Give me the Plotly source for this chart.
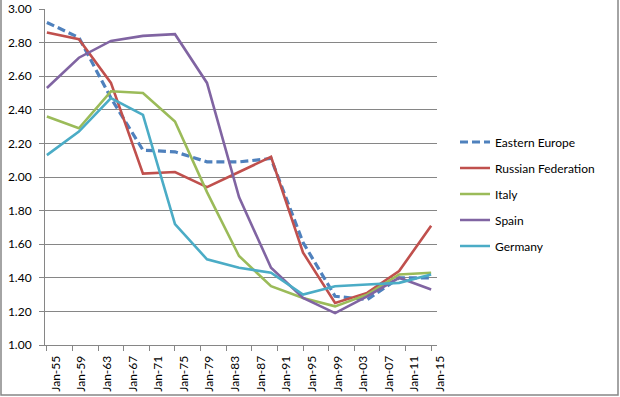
import plotly.graph_objects as go

years = ["1955-01-01", "1960-01-01", "1965-01-01", "1970-01-01", "1975-01-01",
         "1980-01-01", "1985-01-01", "1990-01-01", "1995-01-01", "2000-01-01",
         "2005-01-01", "2010-01-01", "2015-01-01"]

eastern_europe = [2.92, 2.83, 2.47, 2.16, 2.15, 2.09, 2.09, 2.11, 1.61, 1.29, 1.27, 1.40, 1.40]
russian_fed = [2.86, 2.82, 2.56, 2.02, 2.03, 1.94, 2.03, 2.12, 1.55, 1.25, 1.31, 1.44, 1.71]
italy = [2.36, 2.29, 2.51, 2.50, 2.33, 1.91, 1.53, 1.35, 1.28, 1.23, 1.30, 1.42, 1.43]
spain = [2.53, 2.71, 2.81, 2.84, 2.85, 2.56, 1.88, 1.46, 1.28, 1.19, 1.29, 1.40, 1.33]
germany = [2.13, 2.27, 2.47, 2.37, 1.72, 1.51, 1.46, 1.43, 1.30, 1.35, 1.36, 1.37, 1.42]

tick_dates = ["1955-01-01", "1959-01-01", "1963-01-01", "1967-01-01", "1971-01-01",
              "1975-01-01", "1979-01-01", "1983-01-01", "1987-01-01", "1991-01-01",
              "1995-01-01", "1999-01-01", "2003-01-01", "2007-01-01", "2011-01-01",
              "2015-01-01"]
tick_labels = ["Jan-55", "Jan-59", "Jan-63", "Jan-67", "Jan-71", "Jan-75", "Jan-79",
               "Jan-83", "Jan-87", "Jan-91", "Jan-95", "Jan-99", "Jan-03", "Jan-07",
               "Jan-11", "Jan-15"]
y_ticks = [1.0, 1.2, 1.4, 1.6, 1.8, 2.0, 2.2, 2.4, 2.6, 2.8, 3.0]

series = [
    ("Eastern Europe", eastern_europe, "#4F81BD", "8px,4px", 3.2),
    ("Russian Federation", russian_fed, "#C0504D", "solid", 2.6),
    ("Italy", italy, "#9BBB59", "solid", 2.6),
    ("Spain", spain, "#8064A2", "solid", 2.6),
    ("Germany", germany, "#4BACC6", "solid", 2.6),
]

fig = go.Figure()
for i, (name, vals, color, dash, w) in enumerate(series):
    fig.add_trace(go.Scatter(x=years, y=vals, name=name, mode="lines",
                             line=dict(color=color, width=w, dash=dash),
                             legendgroup=f"g{i}"))

L, R, T, B = 45, 183, 9, 52
W, H = 620, 397
pw, ph = W - L - R, H - T - B

fig.update_layout(
    width=W, height=H,
    margin=dict(l=L, r=R, t=T, b=B, autoexpand=False),
    paper_bgcolor="white", plot_bgcolor="white",
    font=dict(family="Lato, Open Sans, sans-serif", size=12, color="#000000"),
    showlegend=True,
    legend=dict(x=(455 - L) / pw, xanchor="left", y=1 - (194 - T) / ph, yanchor="middle",
                font=dict(size=12), tracegroupgap=7, bgcolor="rgba(0,0,0,0)"),
    xaxis=dict(type="date", range=["1954-09-15", "2015-12-01"], automargin=False,
               tickmode="array", tickvals=tick_dates, ticktext=tick_labels,
               tickangle=-90, ticks="outside", ticklen=5, tickcolor="#868686",
               showline=True, linecolor="#868686", linewidth=1,
               showgrid=False, zeroline=False, ticklabelshift=9,
               tickfont=dict(size=12)),
    yaxis=dict(range=[1.0, 3.0], tickmode="array", tickvals=y_ticks, automargin=False,
               tickformat=".2f", ticks="outside", ticklen=5, tickcolor="#868686",
               showline=True, linecolor="#868686", linewidth=1,
               showgrid=True, gridcolor="#868686", gridwidth=1, zeroline=False,
               ticklabelstandoff=5, tickfont=dict(size=12)),
)

# outer chart border (left, bottom, right)
x0 = (1 - L) / pw
x1 = (618 - L) / pw
y0 = 1 - (395 - T) / ph
ytop = 1 + T / ph + 0.01
fig.add_shape(type="path", xref="paper", yref="paper",
              path=f"M {x0} {ytop} L {x0} {y0} L {x1} {y0} L {x1} {ytop}",
              line=dict(color="#868686", width=1.5))

fig.write_html("out.html", config={"displayModeBar": False},
               post_script="document.body.style.margin='0';document.body.style.padding='0';")
